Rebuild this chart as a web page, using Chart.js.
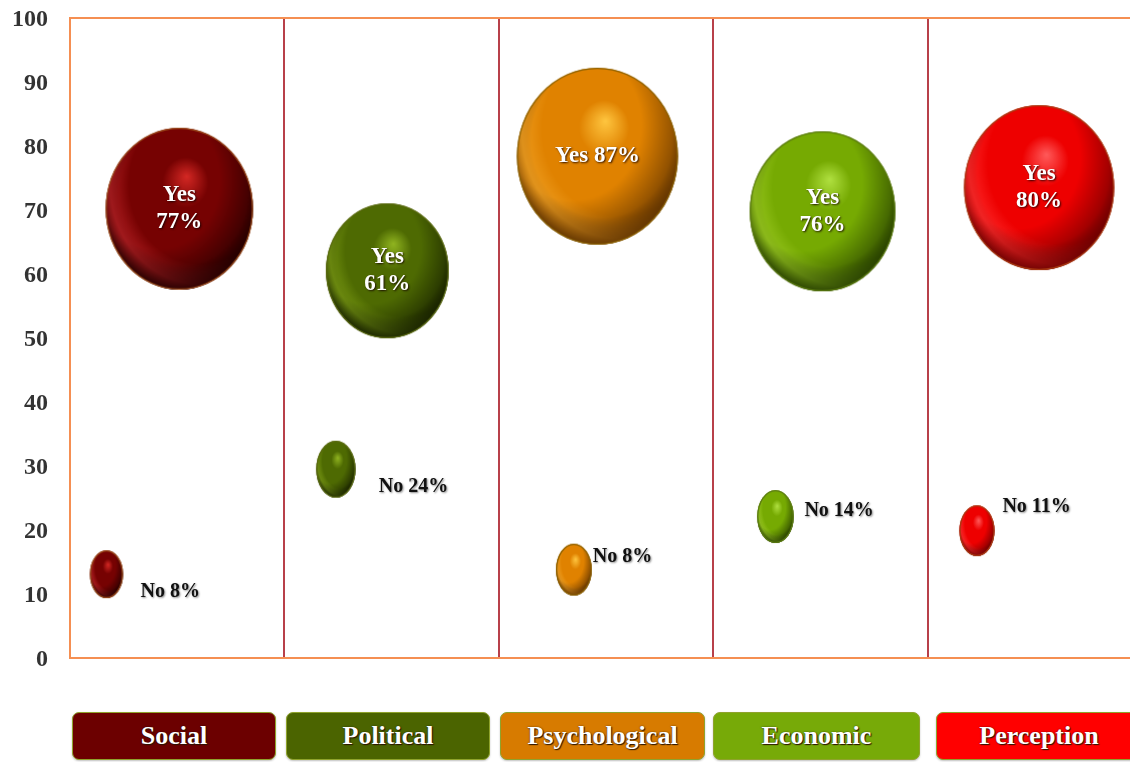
<!DOCTYPE html>
<html>
<head>
<meta charset="utf-8">
<script src="https://cdn.jsdelivr.net/npm/chart.js@4.4.1/dist/chart.umd.min.js"></script>
<style>
  html, body { margin: 0; padding: 0; overflow: hidden; background: #fff; width: 1130px; height: 762px; }
  #plot { position: absolute; left: 0; top: 0; }
  .key {
    position: absolute; top: 712px; height: 48px; box-sizing: border-box;
    border: 1.5px solid #8fa32c; border-radius: 7px;
    display: flex; align-items: center; justify-content: center;
    color: #fff; font: bold 26px "Liberation Serif", serif;
    text-shadow: 1px 1px 1px #2b1400, 0 0 2px rgba(0,0,0,0.55);
    box-shadow: 0 1px 2px rgba(0,0,0,0.25);
  }
</style>
</head>
<body>
<canvas id="plot" width="1142" height="680"></canvas>
<div id="keys"></div>
<script>
// ---- data ----
const categories = ['Social', 'Political', 'Psychological', 'Economic', 'Perception'];
const yesPct  = [77, 61, 87, 76, 80];
const noPct   = [8, 24, 8, 14, 11];
// bubble centres (x in category units, y on the 0–100 scale) and sizes
const yesX    = [0.51, 1.48, 2.46, 3.51, 4.52];
const yesY    = [70.2, 60.5, 78.4, 69.8, 73.5];
const yesSize = [81, 67.5, 88.5, 80, 82.5];
const noX     = [0.17, 1.24, 2.35, 3.29, 4.23];
const noY     = [13.1, 29.5, 13.8, 22.1, 19.9];
const noSize  = [24, 28.5, 26, 26.5, 25.5];
const yTicks  = [0, 10, 20, 30, 40, 50, 60, 70, 80, 90, 100];

// ---- styling ----
const palette = [
  { base: '#760202', hi: '#d42824', dark: '#220000', rim: '#b82226', edge: '#9a4a18', key: '#6c0000' },
  { base: '#4e6a02', hi: '#90b420', dark: '#172000', rim: '#7a9a14', edge: '#5a6a10', key: '#4b6400' },
  { base: '#e08200', hi: '#ffc640', dark: '#5e3200', rim: '#f0a226', edge: '#8a6000', key: '#d77b00' },
  { base: '#76aa02', hi: '#b0e040', dark: '#263e00', rim: '#9cca24', edge: '#5a7a10', key: '#77aa08' },
  { base: '#ee0000', hi: '#ff5a5a', dark: '#6a0000', rim: '#ff3030', edge: '#a83a10', key: '#ff0000' }
];
const yesAspect = 0.91;   // bubbles are drawn slightly narrower than tall
const noAspect  = 0.69;
const yesOneLine = [false, false, true, false, false];
const noLabelShift = [[34, 18], [43, 17.5], [19, -12.5], [29, -5.5], [25.5, -23.5]];
const keyLeft  = [72, 286, 500, 713, 936];
const keyWidth = [204, 204, 205, 207, 206];

function withAlpha(hex, a) {
  const n = parseInt(hex.slice(1), 16);
  return `rgba(${(n >> 16) & 255},${(n >> 8) & 255},${n & 255},${a})`;
}

// shaded sphere sprite used as the point style of each bubble
const spriteCache = {};
function sphere(col, r, aspect) {
  const key = col.base + r + aspect;
  if (spriteCache[key]) return spriteCache[key];
  const rx = r * aspect, ry = r, pad = 2;
  const c = document.createElement('canvas');
  c.width = Math.ceil(2 * rx + 2 * pad);
  c.height = Math.ceil(2 * ry + 2 * pad);
  const g = c.getContext('2d');
  g.translate(c.width / 2, c.height / 2);
  g.save();
  g.scale(rx, ry);
  g.beginPath();
  g.arc(0, 0, 1, 0, Math.PI * 2);
  let gr = g.createRadialGradient(0.1, -0.4, 0, 0.04, -0.12, 1.12);
  gr.addColorStop(0, col.hi);
  gr.addColorStop(0.28, col.base);
  gr.addColorStop(0.78, col.base);
  gr.addColorStop(1, col.dark);
  g.fillStyle = gr; g.fill();
  // light crescent along the left side
  gr = g.createRadialGradient(0.3, -0.3, 0.98, 0.3, -0.3, 1.45);
  gr.addColorStop(0, withAlpha(col.rim, 0));
  gr.addColorStop(0.55, withAlpha(col.rim, 0.75));
  gr.addColorStop(1, withAlpha(col.rim, 0));
  g.fillStyle = gr; g.fill();
  // darker shading towards lower right
  gr = g.createRadialGradient(-0.3, -0.35, 0.85, -0.3, -0.35, 1.5);
  gr.addColorStop(0, withAlpha(col.dark, 0));
  gr.addColorStop(1, withAlpha(col.dark, 0.95));
  g.fillStyle = gr; g.fill();
  g.restore();
  g.beginPath();
  g.ellipse(0, 0, rx - 0.6, ry - 0.6, 0, 0, Math.PI * 2);
  g.strokeStyle = col.edge; g.lineWidth = 1.2; g.stroke();
  spriteCache[key] = c;
  return c;
}

const yesPoints = categories.map((_, i) => ({ x: yesX[i], y: yesY[i], r: yesSize[i] }));
const noPoints  = categories.map((_, i) => ({ x: noX[i],  y: noY[i],  r: noSize[i] }));

const labelPlugin = {
  id: 'bubbleLabels',
  afterDatasetsDraw(chart) {
    const ctx = chart.ctx;
    ctx.save();
    ctx.textAlign = 'center';
    ctx.textBaseline = 'middle';
    // Yes labels inside the big bubbles
    chart.getDatasetMeta(0).data.forEach((el, i) => {
      const lines = yesOneLine[i] ? [`Yes ${yesPct[i]}%`] : ['Yes', `${yesPct[i]}%`];
      ctx.font = 'bold 23px "Liberation Serif", serif';
      ctx.fillStyle = '#ffffff';
      ctx.shadowColor = 'rgba(20,0,0,0.85)';
      ctx.shadowOffsetX = 1; ctx.shadowOffsetY = 1; ctx.shadowBlur = 2;
      const step = 27;
      lines.forEach((t, k) => {
        ctx.fillText(t, el.x, el.y + (k - (lines.length - 1) / 2) * step);
      });
    });
    // No labels beside the small bubbles
    ctx.textAlign = 'left';
    chart.getDatasetMeta(1).data.forEach((el, i) => {
      ctx.font = 'bold 20px "Liberation Serif", serif';
      ctx.fillStyle = '#111111';
      ctx.shadowColor = 'rgba(0,0,0,0.45)';
      ctx.shadowOffsetX = 1; ctx.shadowOffsetY = 1; ctx.shadowBlur = 2;
      ctx.fillText(`No ${noPct[i]}%`, el.x + noLabelShift[i][0], el.y + noLabelShift[i][1]);
    });
    ctx.restore();
  }
};

const orange = '#f58f52';
const divider = '#b8404a';

new Chart(document.getElementById('plot'), {
  type: 'bubble',
  data: {
    datasets: [
      { label: 'Yes', data: yesPoints,
        pointStyle: ctx => sphere(palette[ctx.dataIndex], yesSize[ctx.dataIndex], yesAspect) },
      { label: 'No', data: noPoints,
        pointStyle: ctx => sphere(palette[ctx.dataIndex], noSize[ctx.dataIndex], noAspect) }
    ]
  },
  options: {
    responsive: false,
    animation: false,
    devicePixelRatio: 1,
    events: [],
    layout: { autoPadding: false, padding: { top: 18, right: 0, bottom: 22, left: 0 } },
    plugins: { legend: { display: false }, tooltip: { enabled: false } },
    scales: {
      x: {
        type: 'linear', min: 0, max: categories.length,
        ticks: { stepSize: 1, display: false },
        grid: {
          drawTicks: false, lineWidth: 2,
          color: c => (c.tick.value > 0 && c.tick.value < categories.length) ? divider : 'rgba(0,0,0,0)'
        },
        border: { color: orange, width: 2 },
        afterFit: s => { s.height = 0; s.paddingLeft = 0; s.paddingRight = 0; }
      },
      y: {
        min: 0, max: 100,
        afterBuildTicks: s => { s.ticks = yTicks.map(v => ({ value: v })); },
        ticks: {
          padding: 22, color: '#333333', labelOffset: 2,
          font: { family: '"Liberation Serif", serif', size: 24, weight: 'bold' }
        },
        grid: {
          drawTicks: false, lineWidth: 2,
          color: c => c.tick.value === 100 ? orange : 'rgba(0,0,0,0)'
        },
        border: { color: orange, width: 2 },
        afterFit: s => { s.width = 70; s.paddingTop = 0; s.paddingBottom = 0; }
      }
    }
  },
  plugins: [labelPlugin]
});

// category keys below the plot
const keys = document.getElementById('keys');
categories.forEach((name, i) => {
  const d = document.createElement('div');
  d.className = 'key';
  d.textContent = name;
  d.style.left = keyLeft[i] + 'px';
  d.style.width = keyWidth[i] + 'px';
  d.style.background = palette[i].key;
  keys.appendChild(d);
});
</script>
</body>
</html>
